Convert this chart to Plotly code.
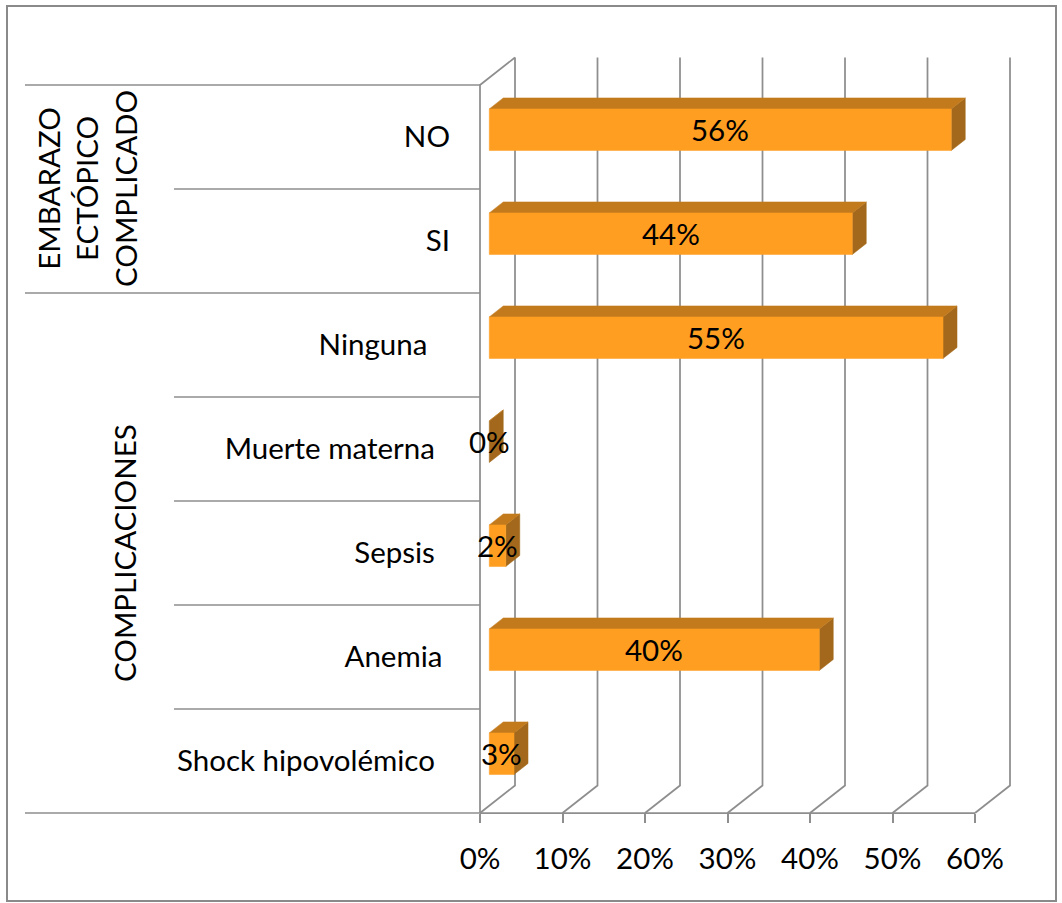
import plotly.graph_objects as go

# ---- data -------------------------------------------------------------
categories = ["Shock hipovolémico", "Anemia", "Sepsis", "Muerte materna",
              "Ninguna", "SI", "NO"]
values = [3, 40, 2, 0, 55, 44, 56]
x_ticks = [0, 10, 20, 30, 40, 50, 60]
x_tick_labels = ["0%", "10%", "20%", "30%", "40%", "50%", "60%"]
group_names = ["COMPLICACIONES", "EMBARAZO<br>ECTÓPICO<br>COMPLICADO"]
group_spans = [(0, 5), (5, 7)]

# ---- layout constants -------------------------------------------------
W, H = 1062, 903
PX_PER_PCT = 8.25          # horizontal scale (pixels per percent)
PX_PER_CAT = 104           # vertical scale (pixels per category slot)
X0_PX, Y0_PX = 480, 813    # where 0% / bottom of the axis box sits
X_RANGE = [-X0_PX / PX_PER_PCT, (W - X0_PX) / PX_PER_PCT]
Y_RANGE = [-(H - Y0_PX) / PX_PER_CAT, Y0_PX / PX_PER_CAT]
DX, DY = 35 / PX_PER_PCT, 27.5 / PX_PER_CAT     # depth of the 3-D box
BAR_FRONT, BAR_BACK = 0.265, 0.665               # bar position inside depth
BAR_HALF = 0.2
label_pad = [2, 1, 2, 2, 3, 0, 0]                # trailing blanks per label

GRID = "#8e8e8e"
FRONT, TOP, SIDE = "#FF9E21", "#C27A1C", "#A3681B"
FONT = dict(family="Lato, 'Open Sans', sans-serif", size=29.5, color="black")

n = len(categories)


def x_at(frac):
    return X_RANGE[0] + frac * (X_RANGE[1] - X_RANGE[0])


fig = go.Figure()

# back wall grid lines + floor diagonals + front-left wall
gx, gy = [], []
for v in x_ticks:
    gx += [v, v + DX, v + DX, None]
    gy += [0, DY, n + DY, None]
gx += [0, 0, DX, None, x_ticks[0], x_ticks[-1]]
gy += [0, n, n + DY, None, 0, 0]
fig.add_trace(go.Scatter(x=gx, y=gy, mode="lines",
                         line=dict(color=GRID, width=1.75),
                         hoverinfo="skip"))

# 3-D bars: side, top and front faces
fx, fy = BAR_FRONT * DX, BAR_FRONT * DY
ddx, ddy = (BAR_BACK - BAR_FRONT) * DX, (BAR_BACK - BAR_FRONT) * DY
faces = {"side": ([], [], SIDE), "top": ([], [], TOP), "front": ([], [], FRONT)}
for i, v in enumerate(values):
    yc = i + 0.5 + fy
    y0, y1 = yc - BAR_HALF, yc + BAR_HALF
    sx, sy, _ = faces["side"]
    sx += [fx + v, fx + v + ddx, fx + v + ddx, fx + v, fx + v, None]
    sy += [y0, y0 + ddy, y1 + ddy, y1, y0, None]
    tx, ty, _ = faces["top"]
    tx += [fx, fx + v, fx + v + ddx, fx + ddx, fx, None]
    ty += [y1, y1, y1 + ddy, y1 + ddy, y1, None]
    if v > 0:
        ox, oy, _ = faces["front"]
        ox += [fx, fx + v, fx + v, fx, fx, None]
        oy += [y0, y0, y1, y1, y0, None]
for xs, ys, col in faces.values():
    fig.add_trace(go.Scatter(x=xs, y=ys, mode="lines", fill="toself",
                             fillcolor=col, line=dict(color=col, width=0.5),
                             hoverinfo="skip"))

# value labels on the bar fronts
for i, v in enumerate(values):
    fig.add_annotation(x=fx + v / 2, y=i + 0.5 + fy, text=f"{v}%",
                       showarrow=False, font=FONT, xanchor="center",
                       yanchor="middle")

# category separators on the left
group_edges = {e for span in group_spans for e in span}
for k in range(n + 1):
    left = x_at(25 / W) if k in group_edges else x_at(174 / W)
    fig.add_shape(type="line", x0=left, x1=0, y0=k, y1=k, xref="x", yref="y",
                  line=dict(color=GRID, width=1.5), layer="below")

# group titles (rotated)
group_x = [124 / W, 87 / W]
for name, (a, b), gxp in zip(group_names, group_spans, group_x):
    fig.add_annotation(x=gxp, xref="paper", y=(a + b) / 2, yref="y",
                       text=name, textangle=-90, showarrow=False, font=FONT,
                       xanchor="center", yanchor="middle")

# outer frame
fig.add_shape(type="rect", xref="paper", yref="paper",
              x0=7 / W, x1=1056 / W, y0=1 - 901 / H, y1=1 - 6 / H,
              line=dict(color="#8a8a8a", width=2), layer="below")

fig.update_layout(
    width=W, height=H, margin=dict(l=0, r=0, t=0, b=0),
    paper_bgcolor="white", plot_bgcolor="white", showlegend=False,
    font=FONT,
    xaxis=dict(range=X_RANGE, showgrid=False, zeroline=False, showline=False,
               tickvals=x_ticks, ticktext=x_tick_labels, ticks="outside",
               ticklen=9, tickwidth=1.75, tickcolor=GRID,
               anchor="free", position=(H - Y0_PX) / H,
               ticklabelstandoff=11, tickfont=FONT, fixedrange=True),
    yaxis=dict(range=Y_RANGE, showgrid=False, zeroline=False, showline=False,
               tickvals=[i + 0.5 for i in range(n)],
               ticktext=[c + "\u00a0" * p for c, p in zip(categories, label_pad)],
               ticks="", anchor="free", position=X0_PX / W,
               ticklabelstandoff=30, tickfont=FONT, fixedrange=True),
)

fig.write_html("out.html")
